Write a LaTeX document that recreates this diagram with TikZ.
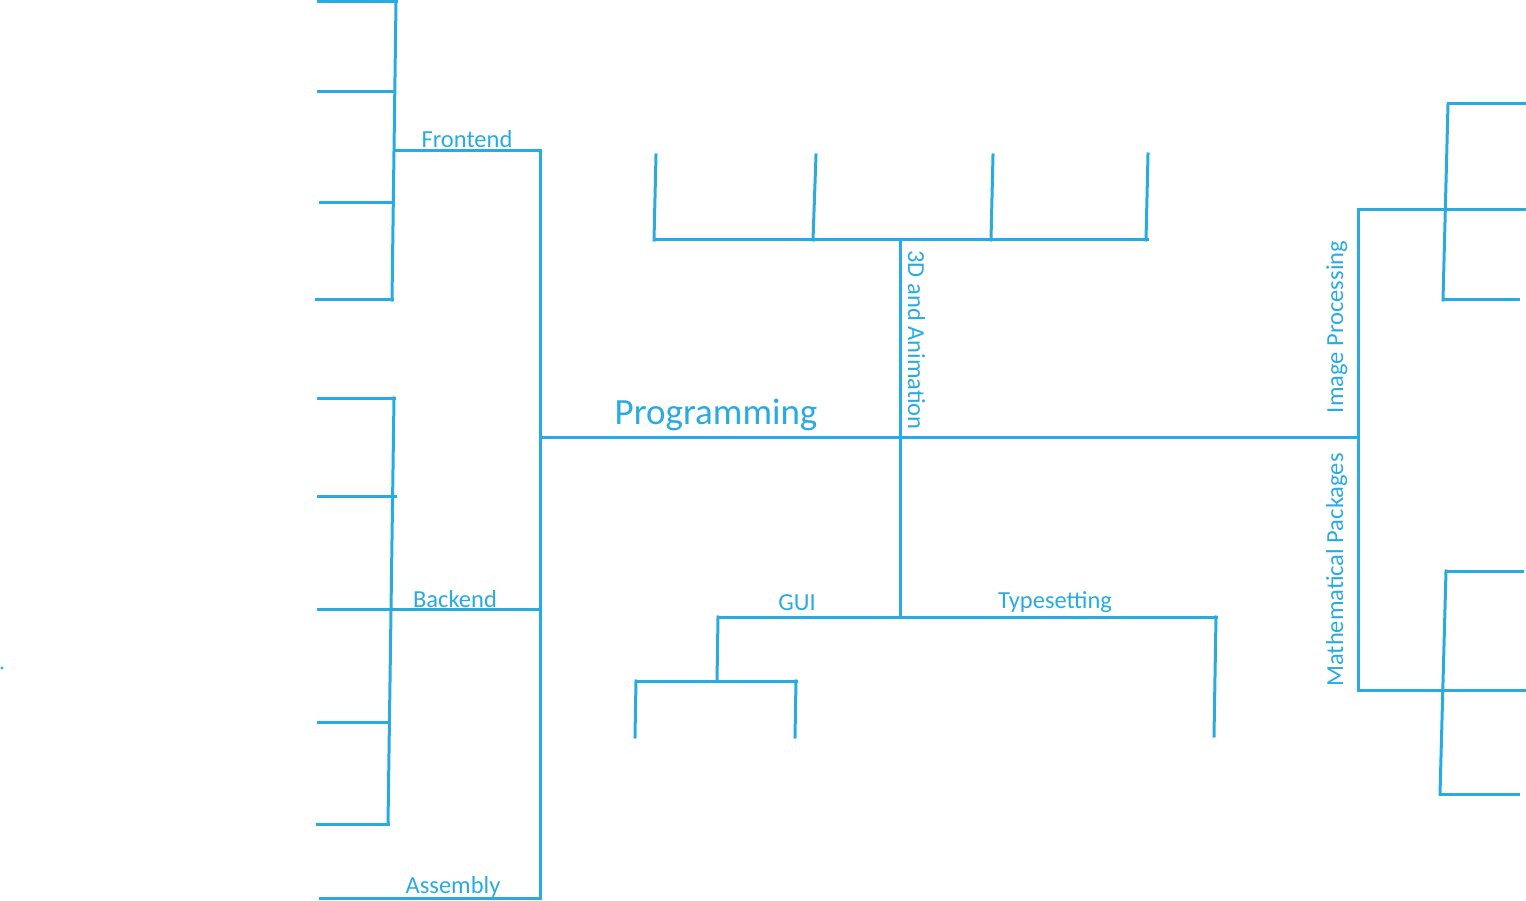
\documentclass[tikz,border=0pt]{standalone}
\usepackage{fontspec}
\setmainfont{Carlito}
\usetikzlibrary{positioning,calc}
\definecolor{skyblue}{RGB}{41,171,226}

\begin{document}
\begin{tikzpicture}[
    x=1pt, y=-1pt,
    twig/.style={draw=skyblue, line width=3pt, line cap=rect},
    branchlabel/.style={text=skyblue, inner sep=0pt, font=\fontsize{24.5}{28}\selectfont},
    rootlabel/.style={text=skyblue, inner sep=0pt, font=\fontsize{37}{42}\selectfont}
]
\useasboundingbox (0,0) rectangle (1526,901);

% stray dot at the left edge
\fill[skyblue] (2,668) circle (1.6pt);

% main trunk
\coordinate (root_w) at (540,437);
\coordinate (root_e) at (1358,437);
\coordinate (mid)    at (900,437);
\draw[twig] (root_w) -- (root_e);
\node[rootlabel, anchor=base] (prog) at (716,424) {Programming};

% left spine: frontend, backend, assembly
\coordinate (fe_j) at (540,151);
\coordinate (be_j) at (540,609);
\coordinate (as_j) at (540,898);
\draw[twig] (fe_j) -- (as_j);

% Frontend
\coordinate (fe_top) at (396,2);
\coordinate (fe_bot) at (392,300);
\draw[twig] (fe_j) -- (395,151);
\draw[twig] (fe_top) -- (fe_bot);
\draw[twig] (fe_top) -- (318,2);
\draw[twig] (394,92) -- (318,92);
\draw[twig] (393,203) -- (320,203);
\draw[twig] (fe_bot) -- (316,300);
\node[branchlabel, anchor=base] (frontend) at (467,148) {Frontend};

% Backend
\coordinate (be_top) at (394,398);
\coordinate (be_bot) at (388,824);
\draw[twig] (be_top) -- (be_bot);
\draw[twig] (be_j) -- (318,609);
\draw[twig] (be_top) -- (318,398);
\draw[twig] (395,496) -- (318,496);
\draw[twig] (389,722) -- (318,722);
\draw[twig] (be_bot) -- (317,824);
\node[branchlabel, anchor=base] (backend) at (455,607) {Backend};

% Assembly
\draw[twig] (as_j) -- (320,898);
\node[branchlabel, anchor=base] (assembly) at (453,893) {Assembly};

% centre column: 3D and Animation, GUI, Typesetting
\coordinate (an_j) at (900,240);
\coordinate (gt_j) at (900,617);
\draw[twig] (an_j) -- (gt_j);
\draw[twig] (654,240) -- (1147,240);
\draw[twig] (654,240) -- (656,155);
\draw[twig] (813,240) -- (816,155);
\draw[twig] (991,240) -- (993,155);
\draw[twig] (1146,240) -- (1148,154);
\node[branchlabel, anchor=base, rotate=-90] (anim) at (908,340) {3D and Animation};

\coordinate (gui_j) at (718,617);
\coordinate (ts_j)  at (1216,617);
\draw[twig] (gui_j) -- (ts_j);
\node[branchlabel, anchor=base] (gui) at (797,610) {GUI};
\node[branchlabel, anchor=base] (typeset) at (1055,608) {Typesetting};

\coordinate (gui_k) at (717,681);
\draw[twig] (gui_j) -- (gui_k);
\draw[twig] (636,681) -- (796,681);
\draw[twig] (636,681) -- (635,737);
\draw[twig] (796,681) -- (795,737);
\draw[twig] (ts_j) -- (1214,736);

% right spine: image processing, mathematical packages
\coordinate (ip_j) at (1358,210);
\coordinate (mp_j) at (1358,690);
\draw[twig] (ip_j) -- (mp_j);
\draw[twig] (ip_j) -- (1525,210);
\draw[twig] (mp_j) -- (1525,690);
\node[branchlabel, anchor=base, rotate=90] (imgproc) at (1343,327) {Image Processing};
\node[branchlabel, anchor=base, rotate=90] (mathpkg) at (1343,570) {Mathematical Packages};

\draw[twig] (1448,104) -- (1443,300);
\draw[twig] (1448,104) -- (1525,104);
\draw[twig] (1443,300) -- (1518,300);

\draw[twig] (1446,571) -- (1440,794);
\draw[twig] (1446,571) -- (1522,571);
\draw[twig] (1440,794) -- (1518,794);
\end{tikzpicture}
\end{document}
